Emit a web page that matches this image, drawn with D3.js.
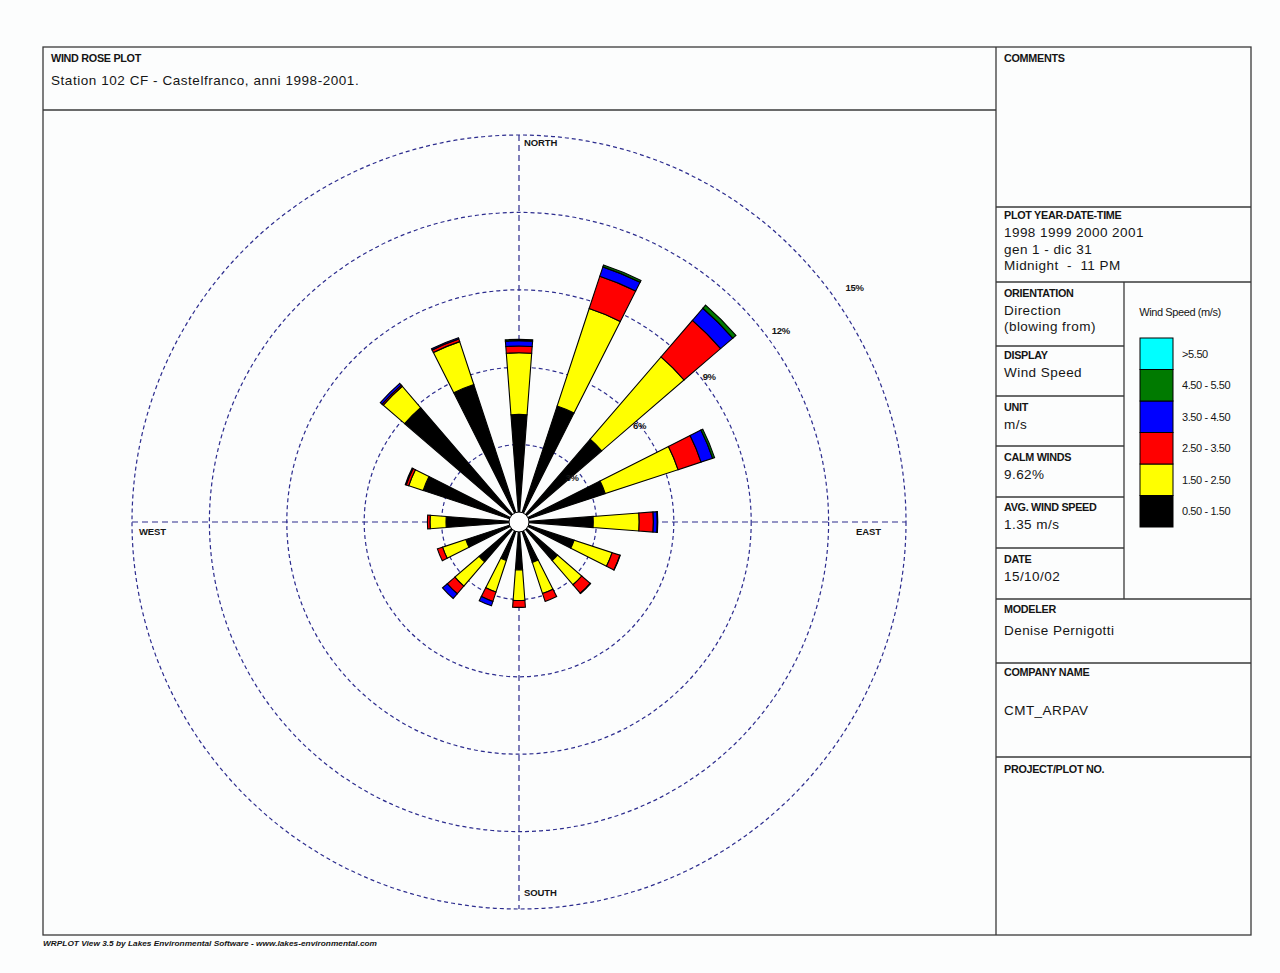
<!DOCTYPE html>
<html><head><meta charset="utf-8">
<script src="https://cdn.jsdelivr.net/npm/d3@7"></script>
<style>
html,body{margin:0;padding:0;background:#fcfdfd;}
svg{display:block;}
text{font-family:"Liberation Sans",Arial,sans-serif;fill:#151515;white-space:pre;}
</style></head><body>
<svg id="chart" width="1280" height="973"></svg>
<script>
// ---- DATA ----
const directions = ["N","NNE","NE","ENE","E","ESE","SE","SSE","S","SSW","SW","WSW","W","WNW","NW","NNW"];
const speedClasses = ["0.50 - 1.50","1.50 - 2.50","2.50 - 3.50","3.50 - 4.50","4.50 - 5.50",">5.50"];
const classColors  = ["#000000","#ffff00","#ff0000","#0000ff","#007a00","#00ffff"];
// frequency (%) per direction for each wind-speed class
const speed050_150 = [4.17,4.73,4.23,3.52,2.88,2.25,1.97,1.65,1.86,1.57,2.04,2.17,2.83,3.91,5.85,5.61];
const speed150_250 = [2.39,3.98,4.21,2.97,1.78,1.55,1.24,1.27,1.18,1.29,1.24,0.95,0.62,0.59,1.09,1.75];
const speed250_350 = [0.26,1.32,1.87,0.94,0.55,0.32,0.43,0.32,0.27,0.38,0.39,0.21,0.10,0.10,0.06,0.11];
const speed350_450 = [0.21,0.38,0.62,0.47,0.15,0.01,0.02,0.00,0.00,0.18,0.24,0.00,0.00,0.04,0.09,0.05];
const speed450_550 = [0.05,0.08,0.16,0.08,0.02,0.00,0.00,0.00,0.00,0.00,0.00,0.00,0.00,0.00,0.00,0.00];
const speedOver550 = [0,0,0,0,0,0,0,0,0,0,0,0,0,0,0,0];
const ringTicks  = [3,6,9,12,15];
const ringLabels = ["3%","6%","9%","12%","15%"];
const compassLabels = ["NORTH","EAST","SOUTH","WEST"];
const titleSmall = "WIND ROSE PLOT";
const titleMain  = "Station 102 CF - Castelfranco, anni 1998-2001.";
const footerText = "WRPLOT View 3.5 by Lakes Environmental Software - www.lakes-environmental.com";
const calmWinds = "9.62%";
const avgSpeed  = "1.35 m/s";

// ---- LAYOUT ----
const W = 1280, H = 973;
const svg = d3.select("#chart");
svg.append("rect").attr("width", W).attr("height", H).attr("fill", "#fcfdfd");

const fx0 = 43, fy0 = 47, fx1 = 1251, fy1 = 935, split = 996, titleBottom = 110;
const lineCol = "#3a3a3a";
const frame = svg.append("g").attr("stroke", lineCol).attr("stroke-width", 1.3).attr("fill", "none");
frame.append("rect").attr("x", fx0).attr("y", fy0).attr("width", fx1 - fx0).attr("height", fy1 - fy0);
frame.append("line").attr("x1", split).attr("x2", split).attr("y1", fy0).attr("y2", fy1);
frame.append("line").attr("x1", fx0).attr("x2", split).attr("y1", titleBottom).attr("y2", titleBottom);

const headSize = 10.8, valSize = 13.5, valSpacing = 0.45;

// title texts
svg.append("text").attr("x", 51).attr("y", 62).attr("font-size", headSize).attr("font-weight", "bold")
  .attr("letter-spacing", -0.3).text(titleSmall);
svg.append("text").attr("x", 51).attr("y", 85).attr("font-size", valSize).attr("letter-spacing", 0.55).text(titleMain);

// footer
svg.append("text").attr("x", 43).attr("y", 946).attr("font-size", 7).attr("font-style", "italic")
  .attr("font-weight", "bold").attr("textLength", 334).attr("lengthAdjust", "spacingAndGlyphs").text(footerText);

// ---- RIGHT PANEL ----
const colSplit = 1124;
const hLines = [207, 282, 599, 663, 757];
hLines.forEach(y => frame.append("line").attr("x1", split).attr("x2", fx1).attr("y1", y).attr("y2", y));
frame.append("line").attr("x1", colSplit).attr("x2", colSplit).attr("y1", 282).attr("y2", 599);
[346, 396, 446, 497, 548].forEach(y => frame.append("line").attr("x1", split).attr("x2", colSplit).attr("y1", y).attr("y2", y));

const cells = [
  {y: 62,  head: "COMMENTS", lines: []},
  {y: 219, head: "PLOT YEAR-DATE-TIME", lines: ["1998 1999 2000 2001", "gen 1 - dic 31", "Midnight  -  11 PM"], dy: 18, step: 16.5},
  {y: 297, head: "ORIENTATION", lines: ["Direction", "(blowing from)"], dy: 18, step: 16},
  {y: 359, head: "DISPLAY", lines: ["Wind Speed"], dy: 18},
  {y: 411, head: "UNIT", lines: ["m/s"], dy: 18},
  {y: 461, head: "CALM WINDS", lines: [calmWinds], dy: 18},
  {y: 511, head: "AVG. WIND SPEED", lines: [avgSpeed], dy: 18},
  {y: 563, head: "DATE", lines: ["15/10/02"], dy: 18},
  {y: 613, head: "MODELER", lines: ["Denise Pernigotti"], dy: 22},
  {y: 676, head: "COMPANY NAME", lines: ["CMT_ARPAV"], dy: 39},
  {y: 773, head: "PROJECT/PLOT NO.", lines: []}
];
cells.forEach(c => {
  svg.append("text").attr("x", 1004).attr("y", c.y).attr("font-size", headSize).attr("font-weight", "bold")
    .attr("letter-spacing", -0.3).text(c.head);
  c.lines.forEach((l, i) => {
    svg.append("text").attr("x", 1004).attr("y", c.y + c.dy + i * (c.step || 16)).attr("font-size", valSize)
      .attr("letter-spacing", valSpacing).text(l);
  });
});

// legend
svg.append("text").attr("x", 1180).attr("y", 316).attr("text-anchor", "middle").attr("font-size", 11)
  .attr("letter-spacing", -0.4).text("Wind Speed (m/s)");
const legY = d3.scaleBand().domain(d3.range(speedClasses.length).reverse()).range([338, 527]);
const leg = svg.append("g");
d3.range(speedClasses.length).forEach(k => {
  leg.append("rect").attr("x", 1140).attr("y", legY(k)).attr("width", 33).attr("height", legY.bandwidth())
    .attr("fill", classColors[k]).attr("stroke", "#000").attr("stroke-width", 1);
  leg.append("text").attr("x", 1182).attr("y", legY(k) + legY.bandwidth() / 2 + 4).attr("font-size", 11)
    .attr("letter-spacing", -0.4).text(speedClasses[k]);
});

// ---- WIND ROSE ----
const cx = 519, cy = 522, R = 387;
const r = d3.scaleLinear().domain([0, 15]).range([0, R]);
const rose = svg.append("g").attr("transform", `translate(${cx},${cy})`);
const gridCol = "#2c2c8e";
rose.selectAll("circle.ring").data(ringTicks).join("circle").attr("class", "ring")
  .attr("r", d => r(d)).attr("fill", "none").attr("stroke", gridCol).attr("stroke-width", 1.2)
  .attr("stroke-dasharray", "4,3");
rose.append("line").attr("x1", 0).attr("x2", 0).attr("y1", -r(15)).attr("y2", r(15))
  .attr("stroke", gridCol).attr("stroke-width", 1.2).attr("stroke-dasharray", "6,4");
rose.append("line").attr("y1", 0).attr("y2", 0).attr("x1", -r(15)).attr("x2", r(15))
  .attr("stroke", gridCol).attr("stroke-width", 1.2).attr("stroke-dasharray", "6,4");

// compass labels
const cl = rose.append("g").attr("font-size", 9.5).attr("font-weight", "bold").attr("letter-spacing", -0.1);
cl.append("text").attr("x", 5).attr("y", -r(15) + 11).text(compassLabels[0]);
cl.append("text").attr("x", r(15) - 50).attr("y", 13).text(compassLabels[1]);
cl.append("text").attr("x", 5).attr("y", r(15) - 13).text(compassLabels[2]);
cl.append("text").attr("x", -r(15) + 7).attr("y", 13).text(compassLabels[3]);

// petals
const rows = directions.map((d, i) => ({
  dir: i, c0: speed050_150[i], c1: speed150_250[i], c2: speed250_350[i],
  c3: speed350_450[i], c4: speed450_550[i], c5: speedOver550[i]
}));
const keys = ["c0", "c1", "c2", "c3", "c4", "c5"];
const series = d3.stack().keys(keys)(rows);
const angle = d3.scaleLinear().domain([0, directions.length]).range([0, 2 * Math.PI]);
const halfW = 4.3 * Math.PI / 180;
const arc = d3.arc();
series.forEach((s, k) => {
  rose.append("g").selectAll("path").data(s.filter(d => d[1] - d[0] > 0)).join("path")
    .attr("d", d => arc({
      innerRadius: r(d[0]), outerRadius: r(d[1]),
      startAngle: angle(d.data.dir) - halfW, endAngle: angle(d.data.dir) + halfW
    }))
    .attr("fill", classColors[k]).attr("stroke", "#000").attr("stroke-width", 1.1).attr("stroke-linejoin", "miter");
});

// calm circle
rose.append("circle").attr("r", 10).attr("fill", "#fff").attr("stroke", "#000").attr("stroke-width", 1);

// ring labels
ringTicks.forEach((v, i) => {
  const a = (49 + v * 0.4) * Math.PI / 180;
  const rl = r(v) * 1.1 - 16;
  rose.append("text").attr("x", rl * Math.sin(a)).attr("y", -rl * Math.cos(a) + 3.5)
    .attr("text-anchor", "middle").attr("font-size", 9.5).attr("font-weight", "bold")
    .attr("letter-spacing", -0.3).text(ringLabels[i]);
});
</script>
</body></html>
